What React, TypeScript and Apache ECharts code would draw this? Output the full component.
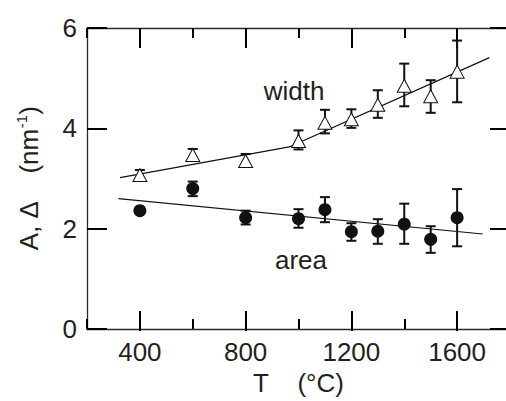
import React, { useEffect, useRef } from "react";
import * as echarts from "echarts";

const temps = [400, 600, 800, 1000, 1100, 1200, 1300, 1400, 1500, 1600];
const widthVals = [3.07, 3.47, 3.35, 3.75, 4.11, 4.18, 4.47, 4.85, 4.64, 5.13];
const widthLo = [2.98, 3.36, 3.25, 3.58, 3.9, 4.01, 4.21, 4.44, 4.31, 4.52];
const widthHi = [3.17, 3.59, 3.49, 3.96, 4.37, 4.38, 4.76, 5.29, 4.96, 5.75];
const areaVals = [2.36, 2.8, 2.22, 2.2, 2.38, 1.94, 1.95, 2.09, 1.79, 2.22];
const areaLo = [2.3, 2.65, 2.085, 2.02, 2.13, 1.76, 1.7, 1.7, 1.52, 1.65];
const areaHi = [2.42, 2.94, 2.36, 2.39, 2.63, 2.11, 2.19, 2.5, 2.05, 2.79];
const widthFit = [
  [325, 3.02],
  [965, 3.63],
  [1722, 5.41],
];
const areaFit = [
  [319, 2.6],
  [1697, 1.895],
];
const xMajorTicks = [400, 800, 1200, 1600];

const FONT = "Liberation Sans";
const TXT = "#231f20";
const AX = "#2a2a2a";

const X_MIN = 200;
const X_MAX = 1800;
const VIEW_W = 506;
const VIEW_H = 401;
const CHART_W = 514; // plot frame continues past the right edge of the view
const G_LEFT = 87;
const G_RIGHT = 4;
const G_TOP = 28;
const G_BOTTOM = 70;

function ls() {
  return { color: AX, width: 1.3, type: "solid" };
}
function tickLs() {
  return { color: "#000", width: 2, type: "solid", opacity: 1 };
}

function errorRenderer(params: any, api: any) {
  const x = api.value(0);
  const lo = api.value(1);
  const hi = api.value(2);
  const pHi = api.coord([x, hi]);
  const pLo = api.coord([x, lo]);
  const cw = 5;
  const st = { stroke: "#111", lineWidth: 2 };
  return {
    type: "group",
    children: [
      { type: "line", shape: { x1: pHi[0], y1: pHi[1], x2: pLo[0], y2: pLo[1] }, style: st },
      { type: "line", shape: { x1: pHi[0] - cw, y1: pHi[1], x2: pHi[0] + cw, y2: pHi[1] }, style: st },
      { type: "line", shape: { x1: pLo[0] - cw, y1: pLo[1], x2: pLo[0] + cw, y2: pLo[1] }, style: st },
    ],
  };
}

export default function App() {
  const ref = useRef<HTMLDivElement>(null);
  useEffect(() => {
    if (!ref.current) return;
    const chart = echarts.init(ref.current, undefined, { renderer: "svg" });
    const plotW = CHART_W - G_LEFT - G_RIGHT;
    const mMin = xMajorTicks[0];
    const mMax = xMajorTicks[xMajorTicks.length - 1];
    const g1Left = G_LEFT + ((mMin - X_MIN) / (X_MAX - X_MIN)) * plotW;
    const g1Right = G_RIGHT + ((X_MAX - mMax) / (X_MAX - X_MIN)) * plotW;
    const option: any = {
      animation: false,
      backgroundColor: "#fff",
      grid: [
        { left: G_LEFT, right: G_RIGHT, top: G_TOP, bottom: G_BOTTOM, containLabel: false },
        { left: g1Left, right: g1Right, top: G_TOP, bottom: G_BOTTOM, containLabel: false },
      ],
      xAxis: [
        {
          type: "value",
          gridIndex: 0,
          position: "bottom",
          min: X_MIN,
          max: X_MAX,
          interval: 200,
          splitLine: { show: false },
          axisLine: { show: true, onZero: false, lineStyle: ls() },
          axisTick: { show: true, inside: true, length: 10, lineStyle: tickLs() },
          axisLabel: {
            show: true,
            margin: 10,
            fontSize: 26,
            fontFamily: FONT,
            color: TXT,
            formatter: (v: number) => (xMajorTicks.indexOf(v) >= 0 ? String(v) : ""),
          },
          name: "T    (°C)",
          nameLocation: "middle",
          nameGap: 40,
          nameTextStyle: { fontSize: 26, fontFamily: FONT, color: TXT },
        },
        {
          type: "value",
          gridIndex: 0,
          position: "top",
          min: X_MIN,
          max: X_MAX,
          interval: 200,
          splitLine: { show: false },
          axisLine: { show: true, onZero: false, lineStyle: ls() },
          axisTick: { show: true, inside: true, length: 10, lineStyle: tickLs() },
          axisLabel: { show: false },
        },
        {
          type: "value",
          gridIndex: 1,
          position: "bottom",
          min: mMin,
          max: mMax,
          interval: 400,
          splitLine: { show: false },
          axisLine: { show: false, onZero: false },
          axisTick: { show: true, inside: true, length: 20, lineStyle: tickLs() },
          axisLabel: { show: false },
        },
        {
          type: "value",
          gridIndex: 1,
          position: "top",
          min: mMin,
          max: mMax,
          interval: 400,
          splitLine: { show: false },
          axisLine: { show: false, onZero: false },
          axisTick: { show: true, inside: true, length: 20, lineStyle: tickLs() },
          axisLabel: { show: false },
        },
      ],
      yAxis: [
        {
          gridIndex: 0,
          type: "value",
          position: "left",
          min: 0,
          max: 6,
          interval: 2,
          axisLine: { show: true, onZero: false, lineStyle: ls() },
          axisTick: { show: true, inside: true, length: 20, lineStyle: tickLs() },
          splitLine: { show: false },
          axisLabel: { show: true, margin: 10, fontSize: 26, fontFamily: FONT, color: TXT },
          name: "A, Δ    (nm{sup|-1})",
          nameLocation: "middle",
          nameGap: 43,
          nameRotate: 90,
          nameTextStyle: {
            fontSize: 26,
            fontFamily: FONT,
            color: TXT,
            lineHeight: 30,
            rich: {
              sup: { fontSize: 15, fontFamily: FONT, color: TXT, verticalAlign: "top", lineHeight: 30 },
            },
          },
        },
        {
          gridIndex: 0,
          type: "value",
          position: "right",
          min: 0,
          max: 6,
          interval: 2,
          axisLine: { show: true, onZero: false, lineStyle: ls() },
          axisTick: { show: true, inside: true, length: 20, lineStyle: tickLs() },
          splitLine: { show: false },
          axisLabel: { show: false },
        },
        {
          gridIndex: 1,
          type: "value",
          min: 0,
          max: 6,
          show: false,
        },
      ],
      series: [
        {
          type: "line",
          data: widthFit,
          xAxisIndex: 0,
          yAxisIndex: 0,
          symbol: "none",
          lineStyle: { color: "#111", width: 1.2 },
          z: 1,
        },
        {
          type: "line",
          data: areaFit,
          xAxisIndex: 0,
          yAxisIndex: 0,
          symbol: "none",
          lineStyle: { color: "#111", width: 1.2 },
          z: 1,
        },
        {
          type: "custom",
          xAxisIndex: 0,
          yAxisIndex: 0,
          renderItem: errorRenderer,
          encode: { x: 0, y: [1, 2] },
          data: temps.map((t, i) => [t, widthLo[i], widthHi[i]]),
          z: 2,
        },
        {
          type: "custom",
          xAxisIndex: 0,
          yAxisIndex: 0,
          renderItem: errorRenderer,
          encode: { x: 0, y: [1, 2] },
          data: temps.map((t, i) => [t, areaLo[i], areaHi[i]]),
          z: 2,
        },
        {
          type: "scatter",
          xAxisIndex: 0,
          yAxisIndex: 0,
          symbol: "triangle",
          symbolSize: [14, 13],
          itemStyle: { color: "#fff", borderColor: "#111", borderWidth: 1, opacity: 1 },
          data: temps.map((t, i) => [t, widthVals[i]]),
          z: 3,
        },
        {
          type: "scatter",
          xAxisIndex: 0,
          yAxisIndex: 0,
          symbol: "circle",
          symbolSize: 13,
          itemStyle: { color: "#111", opacity: 1 },
          data: temps.map((t, i) => [t, areaVals[i]]),
          z: 3,
        },
      ],
      graphic: [
        {
          type: "text",
          x: 294,
          y: 91,
          style: {
            text: "width",
            fontSize: 26,
            fontFamily: FONT,
            fill: TXT,
            align: "center",
            verticalAlign: "middle",
          },
        },
        {
          type: "text",
          x: 301,
          y: 260,
          style: {
            text: "area",
            fontSize: 26,
            fontFamily: FONT,
            fill: TXT,
            align: "center",
            verticalAlign: "middle",
          },
        },
      ],
    };
    chart.setOption(option);
    return () => chart.dispose();
  }, []);
  return (
    <div
      style={{
        position: "absolute",
        left: 0,
        top: 0,
        width: VIEW_W,
        height: VIEW_H,
        overflow: "hidden",
        background: "#fff",
      }}
    >
      <div ref={ref} style={{ width: CHART_W, height: VIEW_H }} />
    </div>
  );
}
